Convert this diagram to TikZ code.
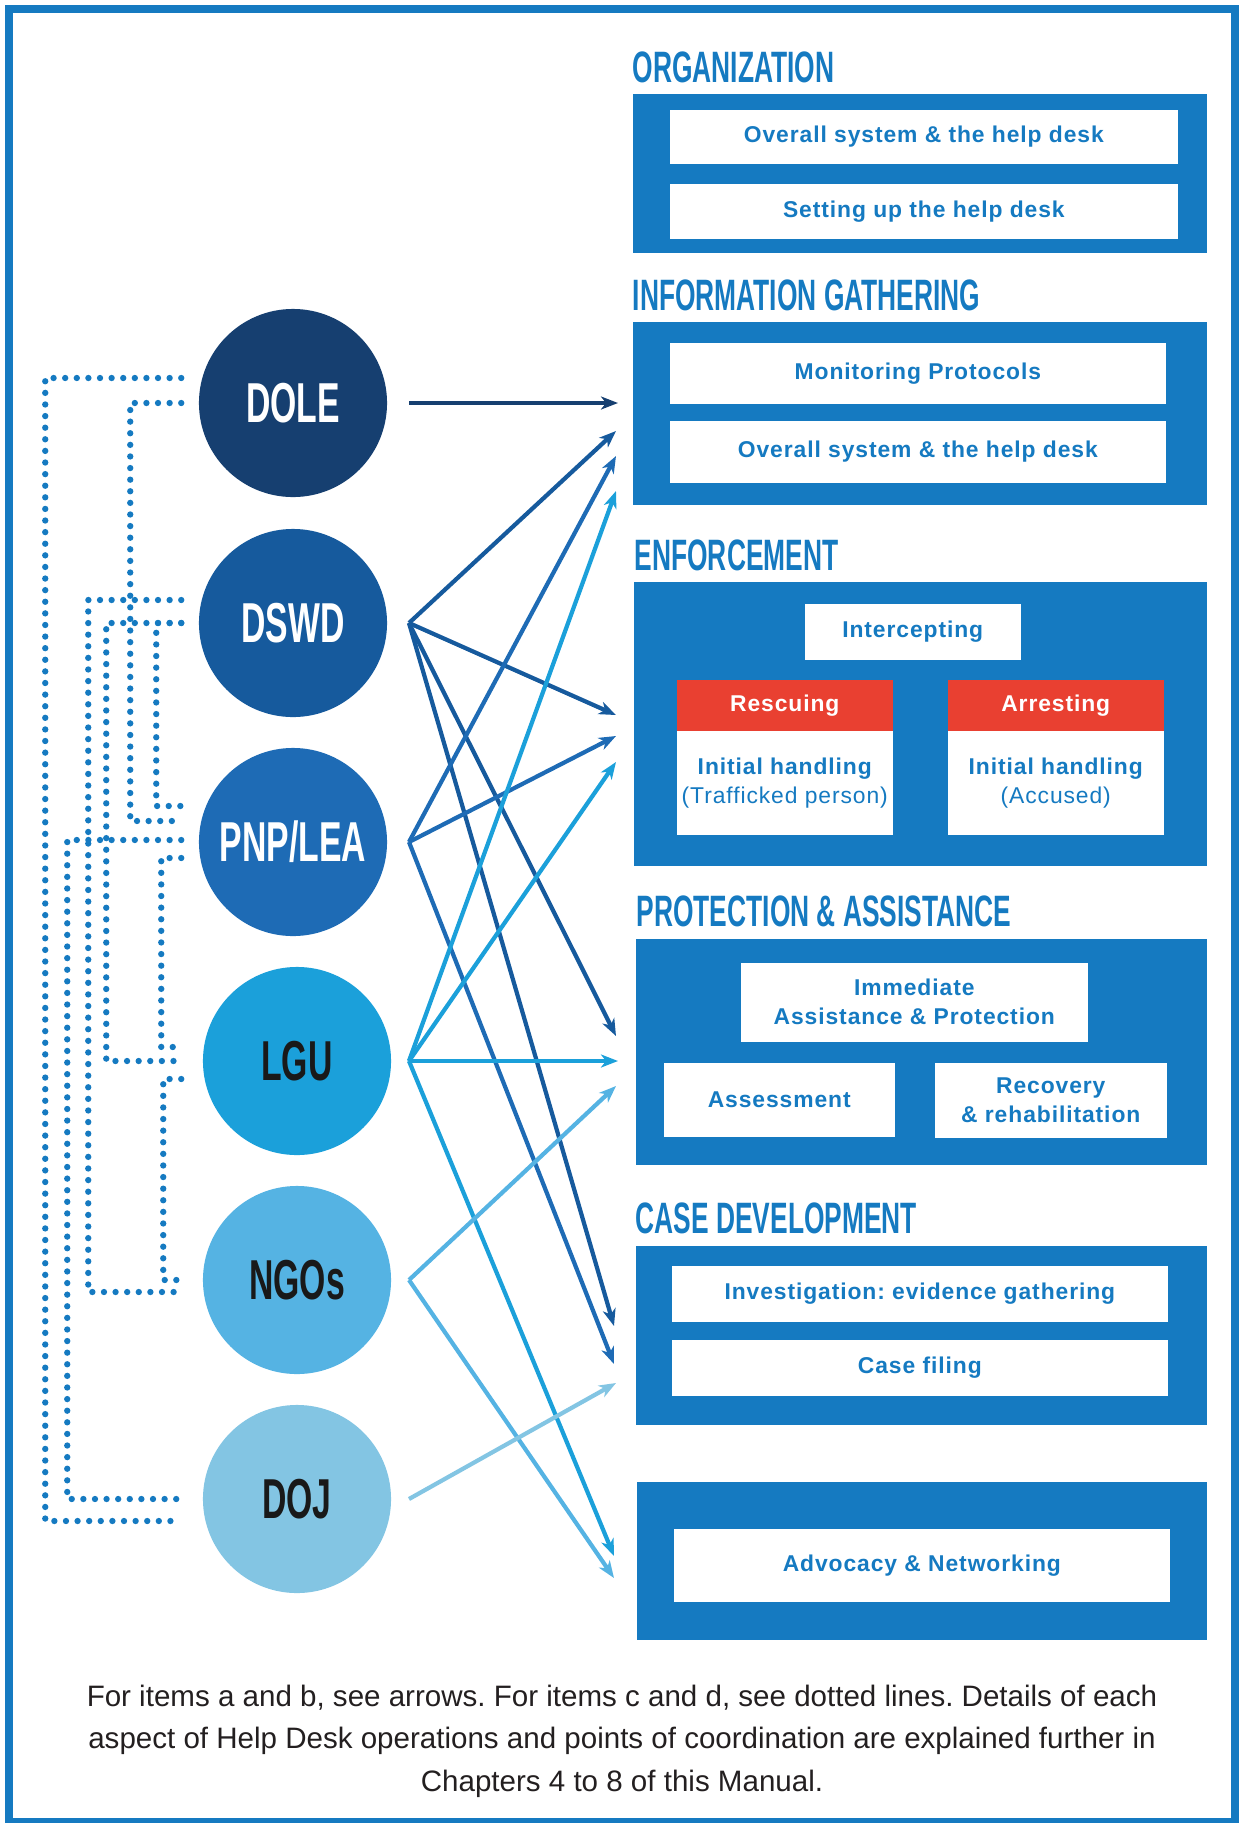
\documentclass[tikz,border=0pt]{standalone}
\usepackage{fontspec}
\setmainfont{Liberation Sans}
\newfontfamily\headfont[FakeStretch=0.6]{Liberation Sans}
\newfontfamily\itemfont[LetterSpace=4]{Liberation Sans}
\usetikzlibrary{arrows.meta}
\frenchspacing

\definecolor{doleblue}{RGB}{22,63,112}
\definecolor{dswdblue}{RGB}{22,90,157}
\definecolor{pnpblue}{RGB}{30,107,181}
\definecolor{lgublue}{RGB}{27,160,218}
\definecolor{ngoblue}{RGB}{85,179,227}
\definecolor{dojblue}{RGB}{131,197,227}
\definecolor{boxblue}{RGB}{21,122,193}
\definecolor{resred}{RGB}{233,64,49}
\definecolor{captext}{RGB}{35,31,32}

\begin{document}
\begin{tikzpicture}[
        x=0.01cm, y=-0.01cm,
        agency/.style={circle, minimum size=1.88cm, inner sep=0pt, font=\headfont\bfseries\fontsize{16}{17}\selectfont},
        panel/.style={fill=boxblue, anchor=north west, inner sep=0pt},
        itembox/.style={fill=white, anchor=north west, inner sep=0pt, align=center, text=boxblue, font=\itemfont\bfseries\fontsize{6.5}{8.2}\selectfont},
        link/.style={line width=1.2pt, -{Stealth[length=1.7mm, width=1.3mm, inset=0.5mm]}},
        dotlink/.style={boxblue, line width=1.8pt, line cap=round, dash pattern=on 0pt off 3.3pt}
        ]
    % Define styles
    \tikzstyle{heading} = [anchor=base west, inner sep=0pt, text=boxblue, font=\headfont\bfseries\fontsize{12.5}{13}\selectfont]

    \useasboundingbox (0,0) rectangle (1239,1823);
    \draw[boxblue, line width=0.075cm] (8.8,8.8) rectangle (1235,1822);

    % Define agency nodes
    \node[agency, fill=doleblue, text=white] (DOLE) at (293,403) {DOLE};
    \node[agency, fill=dswdblue, text=white] (DSWD) at (293,623) {DSWD};
    \node[agency, fill=pnpblue, text=white] (PNP) at (293,842) {PNP/LEA};
    \node[agency, fill=lgublue, text=black!90] (LGU) at (297,1061) {LGU};
    \node[agency, fill=ngoblue, text=black!90] (NGO) at (297,1280) {NGOs};
    \node[agency, fill=dojblue, text=black!90] (DOJ) at (297,1499) {DOJ};

    % Define headings
    \node[heading] (hOrg) at (632,82) {ORGANIZATION};
    \node[heading] (hInfo) at (632,310) {INFORMATION GATHERING};
    \node[heading] (hEnf) at (634,570) {ENFORCEMENT};
    \node[heading] (hPro) at (636,926) {PROTECTION \& ASSISTANCE};
    \node[heading] (hCase) at (635,1233) {CASE DEVELOPMENT};

    % Define panels
    \node[panel, minimum width=5.74cm, minimum height=1.59cm] (org) at (632,93) {};
    \node[panel, minimum width=5.74cm, minimum height=1.83cm] (info) at (632,321) {};
    \node[panel, minimum width=5.73cm, minimum height=2.84cm] (enf) at (633,581) {};
    \node[panel, minimum width=5.71cm, minimum height=2.26cm] (pro) at (635,938) {};
    \node[panel, minimum width=5.71cm, minimum height=1.79cm] (case) at (635,1245) {};
    \node[panel, minimum width=5.70cm, minimum height=1.58cm] (adv) at (636,1481) {};

    % Define item nodes
    \node[itembox, minimum width=5.08cm, minimum height=0.54cm] (orgA) at (669,109) {Overall system \& the help desk};
    \node[itembox, minimum width=5.08cm, minimum height=0.55cm] (orgB) at (669,183) {Setting up the help desk};
    \node[itembox, minimum width=4.96cm, minimum height=0.61cm] (infoA) at (669,342) {Monitoring Protocols};
    \node[itembox, minimum width=4.96cm, minimum height=0.62cm] (infoB) at (669,420) {Overall system \& the help desk};
    \node[itembox, minimum width=2.16cm, minimum height=0.56cm] (icpt) at (804,603) {Intercepting};
    \node[itembox, fill=resred, text=white, minimum width=2.16cm, minimum height=0.51cm] (resc) at (676,679) {Rescuing};
    \node[itembox, minimum width=2.16cm, minimum height=1.04cm] (rescB) at (676,730) {Initial handling\\{\mdseries(Trafficked person)}};
    \node[itembox, fill=resred, text=white, minimum width=2.16cm, minimum height=0.51cm] (arst) at (947,679) {Arresting};
    \node[itembox, minimum width=2.16cm, minimum height=1.04cm] (arstB) at (947,730) {Initial handling\\{\mdseries(Accused)}};
    \node[itembox, minimum width=3.47cm, minimum height=0.79cm] (imm) at (740,962) {Immediate\\Assistance \& Protection};
    \node[itembox, minimum width=2.31cm, minimum height=0.74cm] (asmt) at (663,1062) {Assessment};
    \node[itembox, minimum width=2.32cm, minimum height=0.75cm] (recv) at (934,1062) {Recovery\\\& rehabilitation};
    \node[itembox, minimum width=4.96cm, minimum height=0.56cm] (invs) at (671,1265) {Investigation: evidence gathering};
    \node[itembox, minimum width=4.96cm, minimum height=0.56cm] (filing) at (671,1339) {Case filing};
    \node[itembox, minimum width=4.96cm, minimum height=0.73cm] (advA) at (673,1528) {Advocacy \& Networking};

    % Define arrow sources and tips
    \coordinate (sDOLE) at (409,403);
    \coordinate (sDSWD) at (409,623);
    \coordinate (sPNP) at (409,842);
    \coordinate (sLGU) at (409,1061);
    \coordinate (sNGO) at (409,1280);
    \coordinate (sDOJ) at (409,1499);
    \coordinate (tInfoA) at (618,403);
    \coordinate (tInfoB) at (616,431);
    \coordinate (tInfoC) at (616,456);
    \coordinate (tInfoD) at (616,491);
    \coordinate (tEnfA) at (616,715);
    \coordinate (tEnfB) at (616,736);
    \coordinate (tEnfC) at (616,762);
    \coordinate (tProA) at (616,1036);
    \coordinate (tProB) at (618,1061);
    \coordinate (tProC) at (616,1086);
    \coordinate (tCaseA) at (614,1326);
    \coordinate (tCaseB) at (614,1364);
    \coordinate (tCaseC) at (616,1383);
    \coordinate (tAdvA) at (614,1556);
    \coordinate (tAdvB) at (614,1578);

    % Draw arrows from agencies to panels
    \draw[link, doleblue] (sDOLE) -- (tInfoA);
    \draw[link, dswdblue] (sDSWD) -- (tInfoB);
    \draw[link, dswdblue] (sDSWD) -- (tEnfA);
    \draw[link, dswdblue] (sDSWD) -- (tProA);
    \draw[link, dswdblue] (sDSWD) -- (tCaseA);
    \draw[link, pnpblue] (sPNP) -- (tInfoC);
    \draw[link, pnpblue] (sPNP) -- (tEnfB);
    \draw[link, pnpblue] (sPNP) -- (tCaseB);
    \draw[link, lgublue] (sLGU) -- (tInfoD);
    \draw[link, lgublue] (sLGU) -- (tEnfC);
    \draw[link, lgublue] (sLGU) -- (tProB);
    \draw[link, lgublue] (sLGU) -- (tAdvA);
    \draw[link, ngoblue] (sNGO) -- (tProC);
    \draw[link, ngoblue] (sNGO) -- (tAdvB);
    \draw[link, dojblue] (sDOJ) -- (tCaseC);

    % Draw dotted lines between agencies
    \draw[dotlink] ([shift={(-17,-25)}]DOLE.west) -- ++(-136,0) |- ([shift={(-21,22)}]DOJ.west);
    \draw[dotlink] ([shift={(-17,0)}]DOLE.west) -- ++(-51,0) |- ([shift={(-17,-21)}]PNP.west);
    \draw[dotlink] ([shift={(-17,-23)}]DSWD.west) -- ++(-93,0) |- ([shift={(-21,12)}]NGO.west);
    \draw[dotlink] ([shift={(-17,0)}]DSWD.west) -- ++(-75,0) |- ([shift={(-21,0)}]LGU.west);
    \draw[dotlink] ([shift={(-17,0)}]DSWD.west) -- ++(-25,0) |- ([shift={(-17,-36)}]PNP.west);
    \draw[dotlink] ([shift={(-17,16)}]PNP.west) -- ++(-20,0) |- ([shift={(-21,-14)}]LGU.west);
    \draw[dotlink] ([shift={(-21,18)}]LGU.west) -- ++(-18,0) |- ([shift={(-21,0)}]NGO.west);
    \draw[dotlink] ([shift={(-17,-2)}]PNP.west) -- ++(-114,0) |- ([shift={(-21,0)}]DOJ.west);

    % Caption
    \node[anchor=north, inner sep=0pt, align=center, text=captext, font=\fontsize{8.4}{12.1}\selectfont] (note) at (622,1684) {For items a and b, see arrows. For items c and d, see dotted lines. Details of each\\aspect of Help Desk operations and points of coordination are explained further in\\Chapters 4 to 8 of this Manual.};

\end{tikzpicture}
\end{document}
